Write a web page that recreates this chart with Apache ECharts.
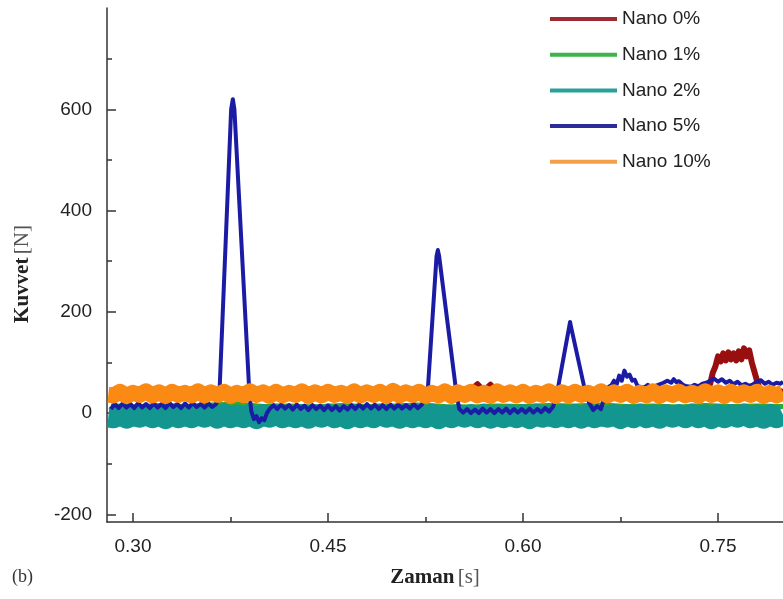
<!DOCTYPE html>
<html>
<head>
<meta charset="utf-8">
<script src="https://cdn.jsdelivr.net/npm/echarts@6/dist/echarts.min.js"></script>
<style>
html,body{margin:0;padding:0;background:#fff;}
#chart{width:783px;height:599px;}
</style>
</head>
<body>
<div id="chart"></div>
<script>
// ---- Data ----
const seriesNames = ['Nano 0%', 'Nano 1%', 'Nano 2%', 'Nano 5%', 'Nano 10%'];
const xLabelTicks = [0.30, 0.45, 0.60, 0.75];
const xMinorTicks = [0.375, 0.525, 0.675];
const yLabelTicks = [-200, 0, 200, 400, 600];
const yMinorTicks = [-100, 100, 300, 500, 700];

// shared sampling times for the two wide noisy bands (s)
const timeGrid = [0.281,0.285,0.290,0.295,0.300,0.305,0.310,0.315,0.320,0.325,0.330,0.335,0.340,0.345,0.350,0.355,0.360,0.365,0.370,0.375,0.380,0.385,0.390,0.395,0.400,0.405,0.410,0.415,0.420,0.425,0.430,0.435,0.440,0.445,0.450,0.455,0.460,0.465,0.470,0.475,0.480,0.485,0.490,0.495,0.500,0.505,0.510,0.515,0.520,0.525,0.530,0.535,0.540,0.545,0.550,0.555,0.560,0.565,0.570,0.575,0.580,0.585,0.590,0.595,0.600,0.605,0.610,0.615,0.620,0.625,0.630,0.635,0.640,0.645,0.650,0.655,0.660,0.665,0.670,0.675,0.680,0.685,0.690,0.695,0.700,0.705,0.710,0.715,0.720,0.725,0.730,0.735,0.740,0.745,0.750,0.755,0.760,0.765,0.770,0.775,0.780,0.785,0.790,0.795,0.800];

// Nano 10% (orange noisy band, centre line)
const nano10 = [36,35,42,34,40,36,43,35,41,34, 42,36,40,35,43,35,41,36,42,34, 40,35,43,36,41,34,42,35,40,36, 43,34,41,35,42,36,40,34,43,35, 41,36,42,34,44,35,41,36,42,34, 40,35,43,34,41,36,42,35,40,34, 43,36,41,35,42,34,40,36,43,34, 41,35,42,36,40,34,43,35,41,36, 42,34,40,35,43,34,41,36,42,35, 40,34,43,36,41,34,42,35,41,36, 42,34,40,35,41];

// Nano 2% (teal noisy band, centre line)
const nano2 = [-8,-9,-2,-10,-4,-8,-3,-9,-3,-11, -2,-9,-4,-9,-3,-8,-3,-10,-2,-9, -4,-9,-3,-11,-3,-8,-2,-9,-4,-9, -3,-10,-3,-8,-2,-9,-4,-11,-3,-9, -3,-9,-2,-8,-4,-10,-3,-9,-3,-9, -2,-11,-4,-9,-3,-8,-3,-9,-2,-10, -4,-9,-3,-9,-3,-11,-2,-8,-4,-9, -3,-9,-3,-10,-2,-9,-4,-8,-3,-11, -3,-9,-2,-9,-4,-10,-3,-8,-3,-9, -2,-9,-4,-11,-3,-9,-3,-8,-2,-9, -4,-10,-3,-9,-3];

// Nano 1% (green), [time, force]
const nano1 = [[0.283,14],[0.30,12],[0.32,15],[0.34,13],[0.36,16],[0.38,18],[0.40,13],[0.42,14],[0.44,12],[0.46,15],[0.48,13],[0.50,14],[0.52,16],[0.54,13],[0.56,12],[0.58,14],[0.60,13],[0.62,15],[0.64,14],[0.66,16],[0.68,13],[0.70,14],[0.72,12],[0.74,15],[0.76,13],[0.78,14],[0.80,13]];

// Nano 0% (dark red), [time, force]
const nano0 = [[0.283,40],[0.29,44],[0.30,38],[0.31,46],[0.32,41],[0.33,45],[0.34,39],[0.35,43],[0.36,40],[0.37,46],[0.38,42],[0.39,38],[0.40,44],[0.41,41],[0.42,46],[0.43,40],[0.44,43],[0.45,39],[0.46,45],[0.47,42],[0.48,40],[0.49,46],[0.50,43],[0.51,39],[0.52,44],[0.53,41],[0.54,45],[0.55,42],[0.56,46],[0.565,57],[0.57,44],[0.575,56],[0.58,43],[0.59,45],[0.60,40],[0.61,44],[0.62,41],[0.63,45],[0.64,39],[0.65,43],[0.66,46],[0.67,41],[0.68,44],[0.69,40],[0.70,45],[0.71,42],[0.72,46],[0.73,43],[0.74,45],
  [0.744,58],[0.746,80],[0.748,92],[0.750,112],[0.752,102],[0.754,118],[0.756,104],[0.758,120],[0.760,106],[0.762,118],[0.764,104],[0.766,122],[0.768,106],[0.770,128],[0.772,112],[0.774,124],[0.776,100],[0.778,82],[0.780,64],[0.782,48],[0.785,44],[0.79,41],[0.795,45],[0.80,42]];

// Nano 5% (blue), [time, force]
const nano5 = [[0.283,8],[0.286,18],[0.289,10],[0.292,19],[0.295,11],[0.298,18],[0.301,10],[0.304,20],[0.307,11],[0.310,18],[0.313,10],[0.316,19],[0.319,11],[0.322,18],[0.325,10],[0.328,20],[0.331,12],[0.334,18],[0.337,10],[0.340,19],[0.343,11],[0.346,20],[0.349,12],[0.352,18],[0.355,11],[0.358,19],[0.361,12],[0.364,18],
  [0.3665,40],[0.3755,600],[0.3768,620],[0.378,600],[0.3895,40],
  [0.391,4],[0.393,-12],[0.395,-6],[0.397,-18],[0.399,-10],[0.401,-14],[0.403,0],[0.405,8],
  [0.408,16],[0.411,8],[0.414,17],[0.417,9],[0.420,16],[0.423,7],[0.426,17],[0.429,8],[0.432,15],[0.435,6],[0.438,16],[0.441,8],[0.444,15],[0.447,6],[0.450,15],[0.453,6],[0.456,14],[0.459,5],[0.462,14],[0.465,7],[0.468,16],[0.471,8],[0.474,17],[0.477,9],[0.480,18],[0.483,9],[0.486,17],[0.489,8],[0.492,16],[0.495,8],[0.498,17],[0.501,9],[0.504,17],[0.507,9],[0.510,16],[0.513,9],[0.516,18],[0.519,10],[0.522,16],
  [0.5265,35],[0.5335,310],[0.5345,322],[0.5355,310],[0.549,35],
  [0.551,8],[0.554,1],[0.557,8],[0.560,0],[0.563,7],[0.566,0],[0.569,9],[0.572,1],[0.575,8],[0.578,0],[0.581,8],[0.584,1],[0.587,9],[0.590,0],[0.593,8],[0.596,1],[0.599,8],[0.602,1],[0.605,9],[0.608,1],[0.611,8],[0.614,2],[0.617,10],[0.620,3],[0.623,12],
  [0.6255,30],[0.6355,170],[0.6362,180],[0.637,170],[0.6485,35],
  [0.651,20],[0.654,6],[0.657,14],[0.660,8],[0.663,35],[0.666,52],
  [0.668,55],[0.670,64],[0.672,56],[0.674,74],[0.676,64],[0.678,84],[0.680,72],[0.682,76],[0.684,64],[0.686,66],[0.688,54],[0.690,52],
  [0.693,50],[0.696,56],[0.699,50],[0.702,54],[0.705,57],
  [0.708,60],[0.711,64],[0.714,60],[0.716,67],[0.718,61],[0.720,63],[0.723,56],[0.726,53],
  [0.729,52],[0.732,56],[0.735,53],[0.738,58],[0.741,60],[0.744,64],
  [0.747,68],[0.750,62],[0.753,67],[0.756,60],[0.759,64],[0.762,57],[0.765,62],[0.768,55],[0.771,58],[0.774,54],[0.777,57],[0.780,62],[0.783,65],[0.786,58],[0.789,62],[0.792,56],[0.795,60],[0.798,58],[0.800,62]];

const colors = ['#990f0f', '#33a532', '#13968f', '#1b1ba6', '#fb8a14'];
const legendColors = ['#9b2b30', '#3db34a', '#2aa198', '#2b2b9a', '#f4a04a'];

// ---- Chart ----
const chart = echarts.init(document.getElementById('chart'), null, {renderer: 'canvas'});
const sans = '"Liberation Sans", Arial, sans-serif';
const serif = '"Liberation Serif", "Times New Roman", serif';

function lineSeries(name, data, color, width, legendColor) {
  return {
    name: name, type: 'line', data: data,
    xAxisIndex: 0, yAxisIndex: 0,
    showSymbol: false, symbol: 'none', animation: false, sampling: null,
    lineStyle: {color: color, width: width, join: 'round', cap: 'butt'},
    itemStyle: {color: legendColor},
    emphasis: {disabled: true}
  };
}

const option = {
  animation: false,
  backgroundColor: '#ffffff',
  grid: {left: 107, right: 0, top: 8, bottom: 77},
  legend: {
    data: seriesNames,
    orient: 'vertical',
    left: 550, top: 9,
    padding: 0,
    icon: 'rect',
    itemWidth: 67, itemHeight: 4,
    itemGap: 15.7,
    textStyle: {fontFamily: sans, fontSize: 19, color: '#222', lineHeight: 20},
    selectedMode: false
  },
  xAxis: [{
    type: 'value', min: 0.28, max: 0.80,
    position: 'bottom',
    name: '{b|Zaman} {r|[s]}',
    nameLocation: 'middle', nameGap: 45,
    nameTextStyle: {padding: [0, 20, 0, 0], rich: {
      b: {fontFamily: serif, fontWeight: 'bold', fontSize: 21, color: '#222'},
      r: {fontFamily: serif, fontSize: 21, color: '#555'}
    }},
    axisLine: {show: true, onZero: false, lineStyle: {color: '#333', width: 1.5}},
    axisTick: {show: true, inside: true, length: 9, customValues: xLabelTicks, lineStyle: {color: '#333', width: 1.5}},
    axisLabel: {show: true, customValues: xLabelTicks, margin: 15, fontFamily: sans, fontSize: 19, color: '#222',
      formatter: v => v.toFixed(2)},
    splitLine: {show: false}
  }, {
    type: 'value', min: 0.28, max: 0.80,
    position: 'bottom',
    axisLine: {show: false, onZero: false},
    axisTick: {show: true, inside: true, length: 5, customValues: xMinorTicks, lineStyle: {color: '#333', width: 1.5}},
    axisLabel: {show: false},
    splitLine: {show: false}
  }],
  yAxis: [{
    type: 'value', min: -215, max: 800,
    position: 'left',
    name: '{b|Kuvvet} {r|[N]}',
    nameLocation: 'middle', nameGap: 74, nameRotate: 90,
    nameTextStyle: {padding: [0, 18, 0, 0], rich: {
      b: {fontFamily: serif, fontWeight: 'bold', fontSize: 21, color: '#222'},
      r: {fontFamily: serif, fontSize: 21, color: '#555'}
    }},
    axisLine: {show: true, onZero: false, lineStyle: {color: '#333', width: 1.5}},
    axisTick: {show: true, inside: true, length: 9, customValues: yLabelTicks, lineStyle: {color: '#333', width: 1.5}},
    axisLabel: {show: true, customValues: yLabelTicks, margin: 15, fontFamily: sans, fontSize: 19, color: '#222'},
    splitLine: {show: false}
  }, {
    type: 'value', min: -215, max: 800,
    position: 'left',
    axisLine: {show: false, onZero: false},
    axisTick: {show: true, inside: true, length: 5, customValues: yMinorTicks, lineStyle: {color: '#333', width: 1.5}},
    axisLabel: {show: false},
    splitLine: {show: false}
  }],
  graphic: [{
    type: 'text', left: 12, top: 568,
    style: {text: '(b)', font: '18px "Liberation Serif", serif', fill: '#333'}
  }],
  series: [
    lineSeries(seriesNames[0], nano0, colors[0], 6, legendColors[0]),
    lineSeries(seriesNames[1], nano1, colors[1], 5, legendColors[1]),
    lineSeries(seriesNames[2], timeGrid.map((t, i) => [t, nano2[i]]), colors[2], 21, legendColors[2]),
    lineSeries(seriesNames[3], nano5, colors[3], 4, legendColors[3]),
    lineSeries(seriesNames[4], timeGrid.map((t, i) => [t, nano10[i]]), colors[4], 16, legendColors[4])
  ]
};
chart.setOption(option);
</script>
</body>
</html>
